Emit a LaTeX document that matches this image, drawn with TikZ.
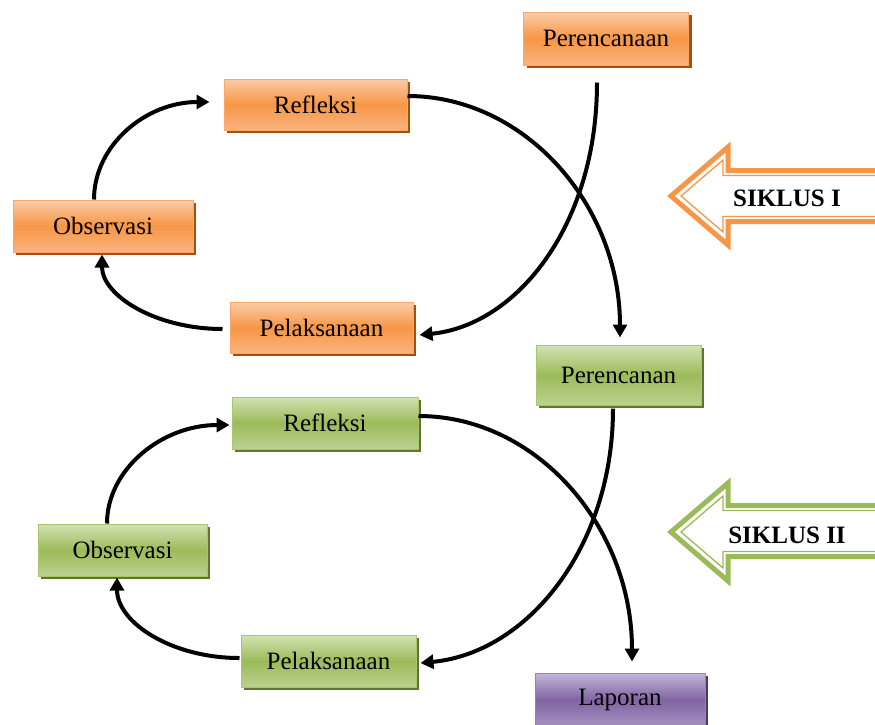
\documentclass[tikz,border=0pt]{standalone}
\usepackage{fontspec}
\setmainfont{Liberation Serif}
\usetikzlibrary{shadows,arrows.meta}
\definecolor{orT}{HTML}{FBCCA6}
\definecolor{orM}{HTML}{F79646}
\definecolor{orL}{HTML}{F9B47E}
\definecolor{orB}{HTML}{F9A76A}
\definecolor{orS}{HTML}{A4500E}
\definecolor{grT}{HTML}{D3E2B4}
\definecolor{grM}{HTML}{9BBB59}
\definecolor{grL}{HTML}{BCD190}
\definecolor{grB}{HTML}{A9C56E}
\definecolor{grS}{HTML}{5E7630}
\definecolor{puT}{HTML}{C4B6D8}
\definecolor{puM}{HTML}{8064A2}
\definecolor{puL}{HTML}{A692C2}
\definecolor{puB}{HTML}{9780B5}
\definecolor{puS}{HTML}{4C3A66}
\tikzset{
  box/.style={rectangle, inner sep=0pt, line width=1pt, text=black,
    font=\fontsize{25}{30}\selectfont},
  obox/.style={box, draw=orB, top color=orT, bottom color=orL, middle color=orM,
    general shadow={fill=orS, shadow xshift=3pt, shadow yshift=-3pt}},
  gbox/.style={box, draw=grB, top color=grT, bottom color=grL, middle color=grM,
    general shadow={fill=grS, shadow xshift=3pt, shadow yshift=-3pt}},
  pbox/.style={box, draw=puB, top color=puT, bottom color=puL, middle color=puM,
    general shadow={fill=puS, shadow xshift=3pt, shadow yshift=-3pt}},
  flow/.style={line width=4pt, -{Triangle[length=13pt,width=14pt]}},
  siklus/.style={font=\bfseries\fontsize{25}{30}\selectfont, text=black},
}
\begin{document}
\begin{tikzpicture}[x=1pt,y=-1pt]
\useasboundingbox (0,0) rectangle (875,724);
\clip (0,0) rectangle (875,724);

% boxes
\node[obox, minimum width=165pt, minimum height=53pt] (per1) at (606,38.5) {Perencanaan};
\node[obox, minimum width=183pt, minimum height=51pt] (ref1) at (315.5,104.5) {Refleksi};
\node[obox, minimum width=180pt, minimum height=52pt] (obs1) at (103,226) {Observasi};
\node[obox, minimum width=183pt, minimum height=51pt] (pel1) at (321.5,327.5) {Pelaksanaan};
\node[gbox, minimum width=165pt, minimum height=60pt] (per2) at (618.5,375) {Perencanan};
\node[gbox, minimum width=186pt, minimum height=52pt] (ref2) at (325,423) {Refleksi};
\node[gbox, minimum width=169pt, minimum height=52pt] (obs2) at (122.5,550) {Observasi};
\node[gbox, minimum width=175pt, minimum height=52pt] (pel2) at (328.5,661) {Pelaksanaan};
\node[pbox, minimum width=170pt, minimum height=54pt] (lap) at (620,700) {Laporan};

% cycle I connectors
\draw[flow] ([xshift=-9pt,yshift=-17pt]per1.south) .. controls +(0,142) and +(98,-10) .. ([xshift=6pt,yshift=-7.5pt]pel1.east);
\draw[flow] ([yshift=8.5pt]ref1.east) .. controls +(117,0) and +(0,-133) .. ([xshift=1.5pt,yshift=7pt]per2.north);
\draw[flow] ([xshift=-7pt,yshift=-1.5pt]pel1.west) .. controls +(-67,0) and +(0,41) .. ([xshift=-1pt,yshift=-2pt]obs1.south);
\draw[flow] ([xshift=-9pt]obs1.north) .. controls +(0,-54) and +(-64,0) .. ([xshift=-14pt,yshift=2.5pt]ref1.west);

% cycle II connectors
\draw[flow] ([xshift=-5.5pt,yshift=-3pt]per2.south) .. controls +(0,140) and +(106,-10) .. ([xshift=4pt,yshift=-2pt]pel2.east);
\draw[flow] ([yshift=7pt]ref2.east) .. controls +(118,0) and +(0,-135) .. ([xshift=12pt,yshift=11pt]lap.north);
\draw[flow] ([xshift=-1pt,yshift=3pt]pel2.west) .. controls +(-68,0) and +(0,45) .. ([xshift=-5.5pt,yshift=-1pt]obs2.south);
\draw[flow] ([xshift=-15.5pt]obs2.north) .. controls +(0,-54) and +(-68,0) .. ([xshift=-2pt,yshift=-2pt]ref2.west);

% SIKLUS I arrow
\draw[orM, line width=5pt, line join=miter, fill=white]
  (671,196) -- (728,147) -- (728,170.5) -- (885,170.5) -- (885,221.5) -- (728,221.5) -- (728,245) -- cycle;
\draw[orM, line width=1.3pt, line join=miter]
  (681,196) -- (723,160) -- (723,175.5) -- (885,175.5) -- (885,216.5) -- (723,216.5) -- (723,232) -- cycle;
\node[siklus] (s1) at (787,198) {SIKLUS I};

% SIKLUS II arrow
\draw[grM, line width=5pt, line join=miter, fill=white]
  (671,532) -- (728,483) -- (728,505.5) -- (885,505.5) -- (885,556.5) -- (728,556.5) -- (728,581) -- cycle;
\draw[grM, line width=1.3pt, line join=miter]
  (681,532) -- (723,496) -- (723,510.5) -- (885,510.5) -- (885,551.5) -- (723,551.5) -- (723,568) -- cycle;
\node[siklus] (s2) at (787,535) {SIKLUS II};
\end{tikzpicture}
\end{document}
